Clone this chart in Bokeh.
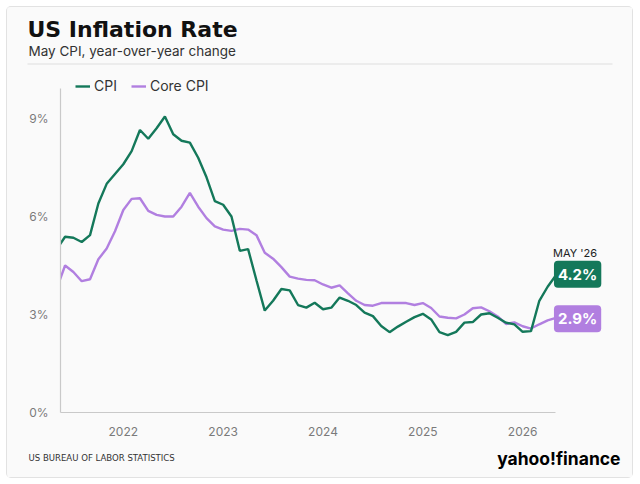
from bokeh.plotting import figure
from bokeh.layouts import column
from bokeh.models import (Range1d, FixedTicker, PrintfTickFormatter, Label,
                          BoxAnnotation, Legend, LegendItem, ColumnDataSource)
from bokeh.embed import file_html
from bokeh.resources import INLINE

# ---- data: monthly, May 2021 .. May 2026 (index 0 = May 2021) ----
cpi = [5.0, 5.38, 5.35, 5.22, 5.43, 6.4, 7.0, 7.3,
       7.6, 8.0, 8.65, 8.38, 8.7, 9.06, 8.52, 8.32, 8.26, 7.8, 7.2, 6.47,
       6.36, 6.0, 4.95, 5.0, 4.05, 3.12, 3.42, 3.78, 3.74, 3.29, 3.21, 3.36,
       3.16, 3.21, 3.52, 3.42, 3.29, 3.06, 2.95, 2.65, 2.46, 2.63, 2.78, 2.92,
       3.02, 2.85, 2.46, 2.37, 2.47, 2.75, 2.77, 3.0, 3.04, 2.9, 2.75, 2.70,
       2.47, 2.49, 3.42, 3.85, 4.2]
core_cpi = [3.8, 4.5, 4.3, 4.02, 4.08, 4.69, 5.02, 5.55,
            6.2, 6.54, 6.56, 6.17, 6.05, 6.0, 6.0, 6.3, 6.72, 6.3, 5.95, 5.7,
            5.6, 5.56, 5.62, 5.6, 5.43, 4.89, 4.71, 4.45, 4.16, 4.1, 4.06, 4.05,
            3.92, 3.82, 3.89, 3.65, 3.42, 3.29, 3.27, 3.35, 3.35, 3.35, 3.35, 3.29,
            3.35, 3.2, 2.94, 2.9, 2.88, 3.0, 3.19, 3.22, 3.1, 2.94, 2.71, 2.76,
            2.64, 2.57, 2.7, 2.82, 2.9]
month_idx = list(range(len(cpi)))
year_ticks = [8, 20, 32, 44, 56]          # January of each year
year_labels = ["2022", "2023", "2024", "2025", "2026"]
y_ticks = [0, 3, 6, 9]
last_label = "MAY '26"

GREEN = "#14785a"
PURPLE = "#b17fe0"
BG = "#fafafa"
FONT = "Inter"
W = 625


def blank(h):
    f = figure(width=W, height=h, output_backend="svg", toolbar_location=None,
               x_range=Range1d(0, W), y_range=Range1d(0, h), min_border=0,
               x_axis_location=None, y_axis_location=None,
               background_fill_color=BG, border_fill_color=BG,
               outline_line_color=None, frame_align=False)
    f.grid.visible = False
    return f


# ---- header ----
top = blank(63)
top.add_layout(Label(x=20, y=41, x_units="screen", y_units="screen",
                     text="US Inflation Rate", text_font="DejaVu Sans",
                     text_font_size="22px", text_font_style="bold",
                     text_color="#111111", text_baseline="alphabetic"))
top.add_layout(Label(x=21, y=20, x_units="screen", y_units="screen",
                     text="May CPI, year-over-year change", text_font=FONT,
                     text_font_size="13.5px", text_color="#333333",
                     text_baseline="middle"))
top.add_layout(BoxAnnotation(left=20, right=605, bottom=6, top=7,
                             left_units="screen", right_units="screen",
                             bottom_units="screen", top_units="screen",
                             fill_color="#dddddd", fill_alpha=1,
                             line_color=None))

# ---- main chart ----
src = ColumnDataSource(dict(x=month_idx, cpi=cpi, core=core_cpi))
p = figure(width=W, height=370, output_backend="svg", toolbar_location=None,
           x_range=Range1d(0.45, 69.2), y_range=Range1d(0, 10.47),
           min_border_left=53, min_border_right=0, min_border_top=0,
           min_border_bottom=28, background_fill_color=BG,
           border_fill_color=BG, outline_line_color=None, frame_align=False)
p.grid.visible = False
for ax in (p.xaxis[0], p.yaxis[0]):
    ax.axis_line_color = "#c9c9c9"
    ax.axis_line_width = 1.2
    ax.major_tick_line_color = None
    ax.minor_tick_line_color = None
    ax.major_label_text_color = "#7a7a7a"
    ax.major_label_text_font = FONT
    ax.major_label_text_font_size = "12px"
p.xaxis.ticker = FixedTicker(ticks=year_ticks)
p.xaxis.major_label_overrides = dict(zip(year_ticks, year_labels))
p.xaxis.major_label_standoff = 8
p.xaxis.bounds = (0.45, month_idx[-1])
p.yaxis.ticker = FixedTicker(ticks=y_ticks)
p.yaxis.formatter = PrintfTickFormatter(format="%d%%")
p.yaxis.major_label_standoff = 6
p.yaxis.bounds = (0, 9.92)

r_core = p.line("x", "core", source=src, color=PURPLE, line_width=2.4)
r_cpi = p.line("x", "cpi", source=src, color=GREEN, line_width=2.4)

legend = Legend(items=[LegendItem(label="CPI", renderers=[r_cpi]),
                       LegendItem(label="Core CPI", renderers=[r_core])],
                orientation="horizontal", location=(15, 318),
                background_fill_alpha=0, border_line_color=None,
                label_text_font=FONT, label_text_font_size="14px",
                label_text_color="#333333", glyph_width=15, glyph_height=14,
                label_standoff=4, spacing=14, padding=0, margin=0)
p.add_layout(legend)

xl = month_idx[-1]
p.add_layout(Label(x=xl, y=cpi[-1], x_offset=-3, y_offset=22, text=last_label,
                   text_font=FONT, text_font_size="11px", text_color="#222222",
                   text_align="left", text_baseline="middle"))
p.add_layout(Label(x=xl, y=cpi[-1], x_offset=-2, y_offset=1,
                   text=f"{cpi[-1]:.1f}%", text_font=FONT,
                   text_font_size="15px", text_font_style="bold",
                   text_color="white", text_align="left",
                   text_baseline="middle", background_fill_color=GREEN,
                   padding=4, border_radius=4))
p.add_layout(Label(x=xl, y=core_cpi[-1], x_offset=-2, y_offset=-1,
                   text=f"{core_cpi[-1]:.1f}%", text_font=FONT,
                   text_font_size="15px", text_font_style="bold",
                   text_color="white", text_align="left",
                   text_baseline="middle", background_fill_color=PURPLE,
                   padding=4, border_radius=4))

# ---- footer ----
foot = blank(37)
foot.add_layout(Label(x=21, y=20, x_units="screen", y_units="screen",
                      text="US BUREAU OF LABOR STATISTICS",
                      text_font="DejaVu Sans Condensed, Roboto",
                      text_font_size="9.5px",
                      text_color="#333333", text_baseline="middle"))
foot.add_layout(Label(x=613, y=19, x_units="screen", y_units="screen",
                      text="yahoo!finance", text_font=FONT,
                      text_font_size="17.5px", text_font_style="bold",
                      text_color="#000000", text_align="right",
                      text_baseline="middle"))

layout = column(top, p, foot, spacing=0)
layout.styles = {"margin-left": "7px", "margin-top": "7px",
                 "box-shadow": "0 0 0 1px #e2e2e2", "border-radius": "4px",
                 "background-color": BG}

open("out.html", "w").write(file_html(layout, INLINE))
